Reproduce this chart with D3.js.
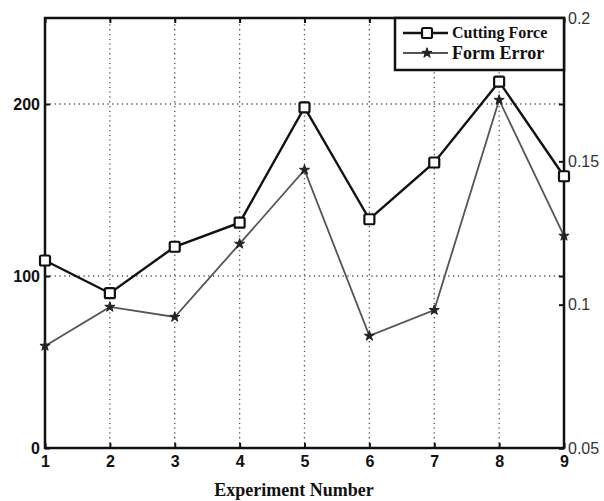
<!DOCTYPE html>
<html><head><meta charset="utf-8">
<script src="https://cdn.jsdelivr.net/npm/d3@7"></script>
<style>
html,body{margin:0;padding:0;background:#fff;}
svg{display:block;}
</style></head>
<body>
<svg id="chart" width="604" height="501"></svg>
<script>
const experiments = [1,2,3,4,5,6,7,8,9];
const cuttingForce = [109, 90, 117, 131, 198, 133, 166, 213, 158];
const formError = [0.0856, 0.0992, 0.0957, 0.1212, 0.147, 0.0891, 0.0981, 0.1714, 0.124];
const leftTicks = [0, 100, 200];
const rightTicks = [0.05, 0.1, 0.15, 0.2];
const seriesNames = ["Cutting Force", "Form Error"];
const xTitle = "Experiment Number";

const svg = d3.select("#chart");
const m = {left:45, right:40, top:18, bottom:53};
const W = 604, H = 501;
const x = d3.scaleLinear().domain([1,9]).range([m.left, W - m.right]);
const yL = d3.scaleLinear().domain([0,250]).range([H - m.bottom, m.top]);
const yR = d3.scaleLinear().domain([0.05,0.2]).range([H - m.bottom, m.top]);
const x0 = x.range()[0], x1 = x.range()[1], yb = yL.range()[0], yt = yL.range()[1];

// grid
const g = svg.append("g");
g.selectAll(".vg").data(experiments.slice(1,-1)).join("line")
  .attr("x1", d=>x(d)).attr("x2", d=>x(d)).attr("y1", yb).attr("y2", yt)
  .attr("stroke","#555").attr("stroke-width",1.3).attr("stroke-dasharray","1.3,3.5");
g.selectAll(".hg").data(leftTicks.slice(1)).join("line")
  .attr("x1", x0).attr("x2", x1).attr("y1", d=>yL(d)).attr("y2", d=>yL(d))
  .attr("stroke","#555").attr("stroke-width",1.3).attr("stroke-dasharray","1.3,3.5");

// axes
const axB = d3.axisBottom(x).tickValues(experiments).tickSize(-5).tickPadding(8).tickFormat(d3.format("d"));
const axL = d3.axisLeft(yL).tickValues(leftTicks).tickSize(-5).tickPadding(5);
const axR = d3.axisRight(yR).tickValues(rightTicks).tickSize(-5).tickPadding(4).tickFormat(d=>String(d));
const axRL = d3.axisRight(yL).tickValues(leftTicks).tickSize(-5).tickFormat("");
const axT = d3.axisTop(x).tickValues(experiments).tickSize(-5).tickFormat("");

function style(sel, weight, color, size){
  sel.select(".domain").remove();
  sel.selectAll("line").attr("stroke","#111").attr("stroke-width",2);
  sel.selectAll("text").attr("font-family","'Liberation Sans Narrow','Liberation Sans',Arial,sans-serif")
    .attr("font-size",size).attr("font-weight",weight).attr("fill",color);
}
svg.append("g").attr("transform",`translate(0,${yb})`).call(axB).call(s=>style(s,"bold","#111",16));
svg.append("g").attr("transform",`translate(${x0},0)`).call(axL).call(s=>style(s,"bold","#111",16));
svg.append("g").attr("transform",`translate(${x1},0)`).call(axR).call(s=>style(s,"normal","#333",16));
svg.append("g").attr("transform",`translate(${x1},0)`).call(axRL).call(s=>style(s,"normal","#333",16));
svg.append("g").attr("transform",`translate(0,${yt})`).call(axT).call(s=>style(s,"normal","#333",16));

// box
svg.append("rect").attr("x",x0).attr("y",yt).attr("width",x1-x0).attr("height",yb-yt)
  .attr("fill","none").attr("stroke","#111").attr("stroke-width",2.5);

// Form Error line
const lineFE = d3.line().x((d,i)=>x(experiments[i])).y(d=>yR(d));
svg.append("path").datum(formError).attr("d",lineFE).attr("fill","none")
  .attr("stroke","#555").attr("stroke-width",1.8);
const star = d3.symbol().type(d3.symbolStar).size(32);
svg.selectAll(".fe").data(formError).join("path")
  .attr("transform",(d,i)=>`translate(${x(experiments[i])},${yR(d)})`)
  .attr("d",star).attr("fill","#222").attr("stroke","#222").attr("stroke-width",1);

// Cutting Force line
const lineCF = d3.line().x((d,i)=>x(experiments[i])).y(d=>yL(d));
svg.append("path").datum(cuttingForce).attr("d",lineCF).attr("fill","none")
  .attr("stroke","#111").attr("stroke-width",2.4);
svg.selectAll(".cf").data(cuttingForce).join("rect")
  .attr("x",(d,i)=>x(experiments[i])-5).attr("y",d=>yL(d)-5)
  .attr("width",10).attr("height",10).attr("rx",1.5)
  .attr("fill","#fff").attr("stroke","#111").attr("stroke-width",2.2);

// legend
const lg = svg.append("g");
lg.append("rect").attr("x",395).attr("y",yt).attr("width",x1-395).attr("height",52)
  .attr("fill","#fff").attr("stroke","#111").attr("stroke-width",2.5);
const ly = [33, 53];
lg.append("line").attr("x1",403).attr("x2",448).attr("y1",ly[0]).attr("y2",ly[0]).attr("stroke","#111").attr("stroke-width",2.4);
lg.append("rect").attr("x",427-5).attr("y",ly[0]-5).attr("width",10).attr("height",10).attr("rx",1.5)
  .attr("fill","#fff").attr("stroke","#111").attr("stroke-width",2.2);
lg.append("line").attr("x1",403).attr("x2",448).attr("y1",ly[1]).attr("y2",ly[1]).attr("stroke","#555").attr("stroke-width",1.8);
lg.append("path").attr("transform",`translate(427,${ly[1]})`).attr("d",star).attr("fill","#222").attr("stroke","#222");
lg.append("text").attr("x",452).attr("y",ly[0]+5).text(seriesNames[0])
  .attr("font-family","'Liberation Serif','Times New Roman',serif").attr("font-weight","bold").attr("font-size",16).attr("fill","#111");
lg.append("text").attr("x",452).attr("y",ly[1]+6).text(seriesNames[1])
  .attr("font-family","'Liberation Serif','Times New Roman',serif").attr("font-weight","bold").attr("font-size",18).attr("fill","#111");

// x title
svg.append("text").attr("x",294).attr("y",496).attr("text-anchor","middle").text(xTitle)
  .attr("font-family","'Liberation Serif','Times New Roman',serif").attr("font-size",18).attr("font-weight","bold").attr("fill","#111");
</script>
</body></html>
